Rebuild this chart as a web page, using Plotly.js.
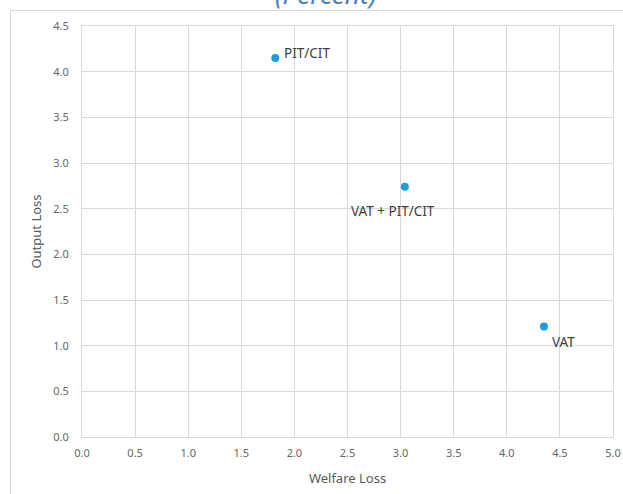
<!DOCTYPE html>
<html><head><meta charset="utf-8">
<script src="https://cdn.plot.ly/plotly-3.0.1.min.js"></script>
<style>
html,body{margin:0;padding:0;background:#fff;}
#wrap{position:relative;width:623px;height:494px;overflow:hidden;}
#chart{position:absolute;left:0;top:0;width:623px;height:494px;}
#frame{position:absolute;left:10px;top:10px;width:613px;height:484px;border-left:1px solid #d9d9d9;border-top:1px solid #d9d9d9;pointer-events:none;}
</style></head>
<body>
<div id="wrap"><div id="chart"></div><div id="frame"></div></div>
<script>
const labels = ["PIT/CIT", "VAT + PIT/CIT", "VAT"];
const welfareLoss = [1.82, 3.04, 4.35];
const outputLoss = [4.15, 2.74, 1.21];
const labelShiftX = [32, -12, 20];
const labelShiftY = [5, -24, -16];

const font = "Noto Sans, Open Sans, sans-serif";
const ann = labels.map((t, i) => ({
  x: welfareLoss[i], y: outputLoss[i], xref: 'x', yref: 'y', text: t,
  showarrow: false, xshift: labelShiftX[i], yshift: labelShiftY[i],
  font: {family: font, size: 13.5, color: '#404040'}
}));
ann.push({
  x: 0.4586, y: 1, xref: 'paper', yref: 'paper', yshift: 12, yanchor: 'bottom',
  text: '<i>(Percent)</i>', showarrow: false,
  font: {family: font, size: 26, color: '#4a7ebb'}
});

Plotly.newPlot('chart', [{
  type: 'scatter', mode: 'markers',
  x: welfareLoss, y: outputLoss,
  marker: {color: '#1a9ee0', size: 8},
  hoverinfo: 'none'
}], {
  width: 623, height: 494,
  margin: {l: 82, r: 10, t: 26, b: 57},
  paper_bgcolor: 'rgba(0,0,0,0)', plot_bgcolor: '#fff',
  showlegend: false,
  xaxis: {
    range: [0, 5], dtick: 0.5, tick0: 0, tickformat: '.1f',
    showgrid: true, gridcolor: '#d9d9d9', gridwidth: 1,
    showline: true, linecolor: '#d9d9d9', mirror: true, zeroline: false,
    ticks: '', ticklabelstandoff: 6,
    tickfont: {family: font, size: 11, color: '#666666'},
    title: {text: 'Welfare Loss', font: {family: font, size: 13, color: '#595959'}, standoff: 14}
  },
  yaxis: {
    range: [0, 4.5], dtick: 0.5, tick0: 0, tickformat: '.1f',
    showgrid: true, gridcolor: '#d9d9d9', gridwidth: 1,
    showline: true, linecolor: '#d9d9d9', mirror: true, zeroline: false,
    ticks: '', ticklabelstandoff: 10,
    tickfont: {family: font, size: 11, color: '#666666'},
    title: {text: 'Output Loss', font: {family: font, size: 13, color: '#595959'}, standoff: 8}
  },
  annotations: ann
}, {displayModeBar: false, staticPlot: true});
</script>
</body></html>
